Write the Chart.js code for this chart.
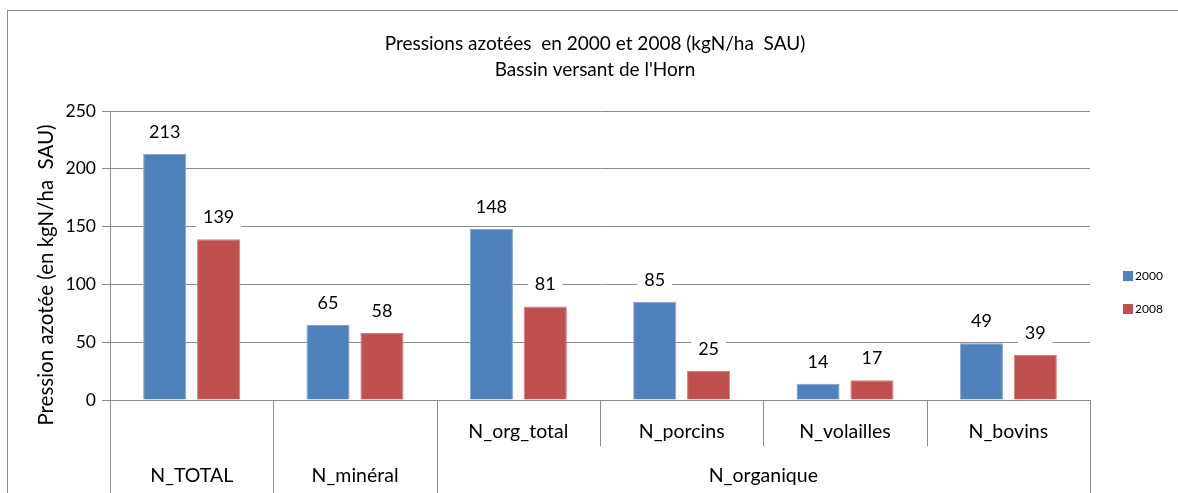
<!DOCTYPE html>
<html>
<head>
<meta charset="utf-8">
<script src="https://cdn.jsdelivr.net/npm/chart.js@4.4.1/dist/chart.umd.min.js"></script>
<style>
  body { margin: 0; background: #fff; }
  #wrap { position: relative; width: 1178px; height: 493px; overflow: hidden; }
  #frame { position: absolute; left: 7px; top: 10px; width: 1200px; height: 600px; border: 1px solid #8a8a8a; }
  canvas { position: absolute; left: 0; top: 0; }
</style>
</head>
<body>
<div id="wrap">
  <div id="frame"></div>
  <canvas id="barChart" width="1178" height="493"></canvas>
</div>
<script>
const categories = ["N_TOTAL", "N_minéral", "N_org_total", "N_porcins", "N_volailles", "N_bovins"];
// second row of the x axis: [label, first category index, last category index]
const groups = [["N_TOTAL", 0, 0], ["N_minéral", 1, 1], ["N_organique", 2, 5]];
const values2000 = [213, 65, 148, 85, 14, 49];
const values2008 = [139, 58, 81, 25, 17, 39];
const seriesNames = ["2000", "2008"];
const seriesColors = ["#4F81BD", "#C0504D"];
const yTicks = [0, 50, 100, 150, 200, 250];
const yTitle = "Pression azotée (en kgN/ha  SAU)";

const FONT = "Lato, 'Open Sans', sans-serif";
const GRID = "#8c8c8c";

// labels on top of bars, with a white box over the gridlines
const barLabels = {
  id: "barLabels",
  afterDatasetsDraw(chart) {
    const ctx = chart.ctx;
    ctx.save();
    ctx.font = "18px " + FONT;
    ctx.textAlign = "center";
    ctx.textBaseline = "middle";
    chart.data.datasets.forEach((ds, i) => {
      chart.getDatasetMeta(i).data.forEach((bar, j) => {
        const txt = String(ds.data[j]);
        const w = ctx.measureText(txt).width;
        const y = bar.y - 22;
        ctx.fillStyle = "#fff";
        ctx.fillRect(bar.x - w / 2 - 7, y - 11, w + 14, 22);
        ctx.fillStyle = "#000";
        ctx.fillText(txt, bar.x, y);
      });
    });
    ctx.restore();
  }
};

// two-level category axis with separators, y title and the legend
const multiAxis = {
  id: "multiAxis",
  afterDraw(chart) {
    const ctx = chart.ctx;
    const x = chart.scales.x;
    const area = chart.chartArea;
    const n = categories.length;
    const edge = (i) => {
      if (i <= 0) return area.left;
      if (i >= n) return area.right;
      return (x.getPixelForValue(i - 1) + x.getPixelForValue(i)) / 2;
    };
    const groupEdges = new Set();
    groups.forEach(g => { groupEdges.add(g[1]); groupEdges.add(g[2] + 1); });
    ctx.save();
    ctx.strokeStyle = GRID;
    ctx.lineWidth = 1;
    for (let i = 0; i <= n; i++) {
      const px = Math.round(edge(i)) + 0.5;
      const bottom = groupEdges.has(i) ? chart.height : area.bottom + 46;
      ctx.beginPath();
      ctx.moveTo(px, area.bottom);
      ctx.lineTo(px, bottom);
      ctx.stroke();
    }
    ctx.fillStyle = "#000";
    ctx.font = "19.5px " + FONT;
    ctx.textAlign = "center";
    ctx.textBaseline = "middle";
    groups.forEach(g => {
      if (g[2] > g[1]) {
        for (let i = g[1]; i <= g[2]; i++) {
          ctx.fillText(categories[i], x.getPixelForValue(i), area.bottom + 32);
        }
      }
      ctx.fillText(g[0], (edge(g[1]) + edge(g[2] + 1)) / 2, area.bottom + 76);
    });
    // y axis title, a bit below the middle as in the original
    ctx.save();
    ctx.translate(46, 275);
    ctx.rotate(-Math.PI / 2);
    ctx.font = "20.5px " + FONT;
    ctx.fillText(yTitle, 0, 0);
    ctx.restore();
    // legend
    ctx.font = "12px " + FONT;
    ctx.textAlign = "left";
    seriesNames.forEach((s, i) => {
      const cy = 276 + i * 33;
      ctx.fillStyle = seriesColors[i];
      ctx.fillRect(1123, cy - 5, 10, 10);
      ctx.fillStyle = "#000";
      ctx.fillText(s, 1135, cy);
    });
    ctx.restore();
  }
};

const ctx = document.getElementById("barChart");
new Chart(ctx, {
  type: "bar",
  data: {
    labels: categories,
    datasets: [
      { label: seriesNames[0], data: values2000, backgroundColor: seriesColors[0], borderColor: "#7fa3d3", borderWidth: 1 },
      { label: seriesNames[1], data: values2008, backgroundColor: seriesColors[1], borderColor: "#d47f7d", borderWidth: 1 }
    ]
  },
  options: {
    responsive: false,
    animation: false,
    layout: { padding: { left: 12, right: 0, top: 0, bottom: 0 } },
    datasets: { bar: { categoryPercentage: 0.66, barPercentage: 0.8 } },
    plugins: {
      legend: { display: false },
      tooltip: { enabled: false },
      title: {
        display: true,
        text: ["Pressions azotées  en 2000 et 2008 (kgN/ha  SAU)", "Bassin versant de l'Horn"],
        color: "#000",
        font: { family: FONT, size: 19, weight: "normal", lineHeight: 1.37 },
        padding: { top: 31, bottom: 28 }
      }
    },
    scales: {
      x: {
        ticks: { display: false },
        grid: { display: false },
        border: { display: true, color: GRID },
        afterFit(scale) { scale.height = 93; }
      },
      y: {
        min: 0,
        max: 250,
        afterBuildTicks(scale) { scale.ticks = yTicks.map(v => ({ value: v })); },
        ticks: { color: "#000", font: { family: FONT, size: 17.5 }, padding: 6 },
        grid: { color: GRID, tickLength: 8 },
        border: { color: GRID },
        afterFit(scale) { scale.width = 98; }
      },
      // empty box on the right that keeps room for the legend
      legendRoom: {
        type: "linear",
        position: "right",
        display: true,
        ticks: { display: false },
        grid: { display: false, drawOnChartArea: false },
        border: { display: false },
        afterFit(scale) { scale.width = 88; }
      }
    }
  },
  plugins: [barLabels, multiAxis]
});
</script>
</body>
</html>
